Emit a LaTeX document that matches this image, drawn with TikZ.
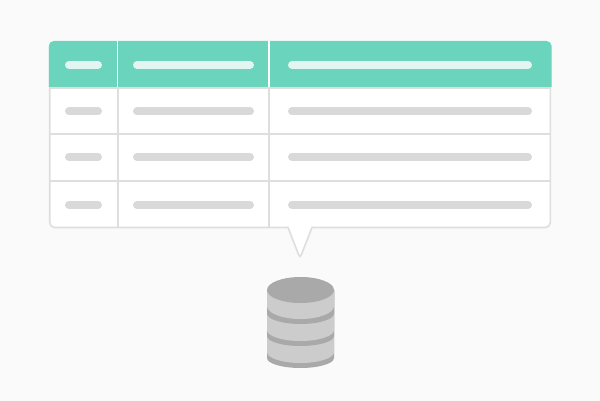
\documentclass[tikz,border=0pt]{standalone}
\definecolor{pagebg}{HTML}{FAFAFA}
\definecolor{headteal}{HTML}{6BD4BD}
\definecolor{headbar}{HTML}{E2F5F1}
\definecolor{gridgray}{HTML}{DEDEDE}
\definecolor{rowgray}{HTML}{D9D9D9}
\definecolor{dblight}{HTML}{CCCCCC}
\definecolor{dbdark}{HTML}{A9A9A9}
\tikzstyle{gridline}=[draw=gridgray,line width=2pt]
\tikzstyle{cardline}=[draw=gridgray,line width=1.6pt]
\tikzstyle{headbarline}=[draw=headbar,line width=8pt,line cap=round]
\tikzstyle{rowbarline}=[draw=rowgray,line width=8pt,line cap=round]
% one slice of the cylinder, flat top and curved bottom
\newcommand{\dbslice}[4]{
    \fill[#4] (267,#1) -- (267,#2)
        .. controls (267,#2+#3*0.55) and (282,#2+#3) .. (300.5,#2+#3)
        .. controls (319,#2+#3) and (334,#2+#3*0.55) .. (334,#2)
        -- (334,#1) -- cycle;
}
\begin{document}
\begin{tikzpicture}[x=1pt,y=-1pt]
    \useasboundingbox[fill=pagebg] (0,0) rectangle (600,401);

    % card with its tail
    \path[cardline,fill=white,rounded corners=5pt]
        (49.7,42) -- (550.3,42) -- (550.3,227.5) [sharp corners] -- (312,227.5)
        -- (303.2,250) .. controls (300,258.5) .. (296.8,250)
        -- (288,227.5) [rounded corners=5pt] -- (49.7,227.5) -- cycle;

    % header
    \fill[headteal] (48.8,87) [rounded corners=5pt] -- (48.8,41) -- (551.6,41)
        [sharp corners] -- (551.6,87) -- cycle;

    % rows and columns
    \foreach \y in {88,134.3,181}
        \path[gridline] (50,\y) -- (550.3,\y);
    \foreach \x in {117.5,269.3} {
        \draw[white,line width=1.8pt] (\x,41) -- (\x,87);
        \path[gridline] (\x,87) -- (\x,227.5);
    }

    % bars
    \path[headbarline] (69,65) -- (98,65);
    \path[headbarline] (137,65) -- (250,65);
    \path[headbarline] (292,65) -- (528,65);
    \foreach \y in {111.5,157,205} {
        \path[rowbarline] (69,\y) -- (98,\y);
        \path[rowbarline] (137,\y) -- (250,\y);
        \path[rowbarline] (292,\y) -- (528,\y);
    }

    % database
    \dbslice{290}{358}{10}{dbdark}
    \dbslice{290}{352}{11}{dblight}
    \dbslice{290}{336}{10}{dbdark}
    \dbslice{290}{330}{11}{dblight}
    \dbslice{290}{313.5}{10.5}{dbdark}
    \dbslice{290}{306}{13}{dblight}
    \fill[dbdark] (300.5,290) ellipse [x radius=33.5pt,y radius=13pt];
\end{tikzpicture}
\end{document}
